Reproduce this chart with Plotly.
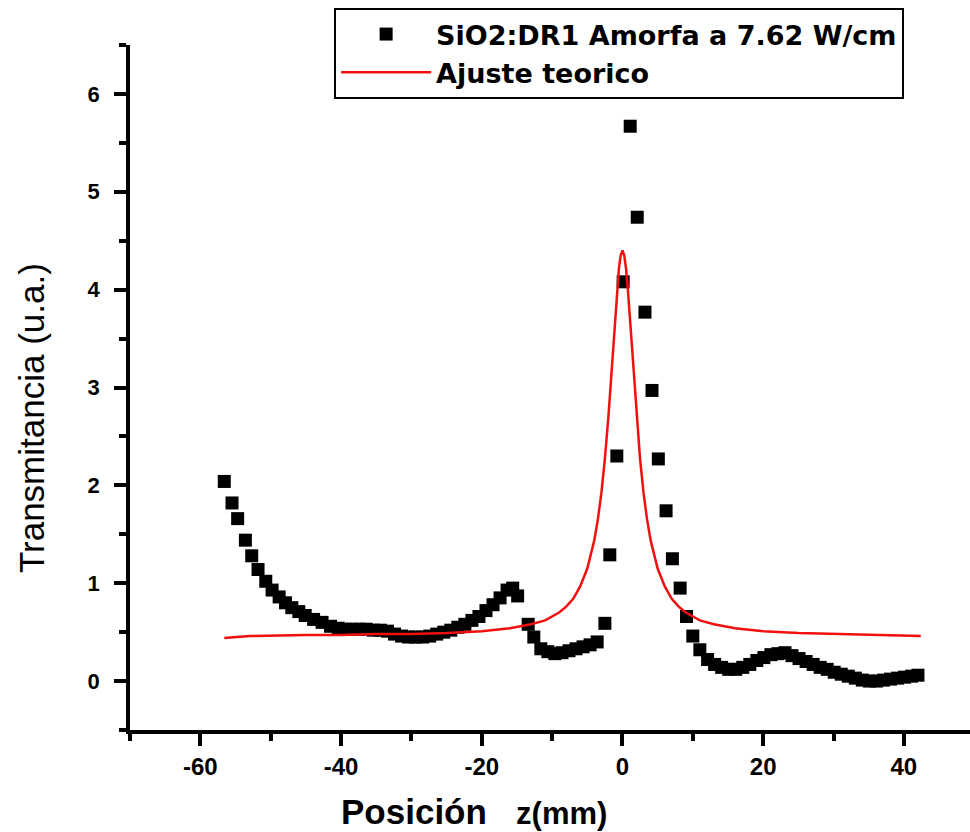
import plotly.graph_objects as go

# Measured Z-scan transmittance (SiO2:DR1, amorphous, 7.62 W/cm)
z_exp = [-56.6, -55.5, -54.7, -53.6, -52.7, -51.8, -50.7, -49.8, -48.8, -47.9,
         -47.0, -46.0, -45.1, -43.9, -42.7, -41.5, -40.4, -39.4, -38.4, -37.4,
         -36.4, -35.4, -34.4, -33.4, -32.4, -31.4, -30.4, -29.4, -28.4, -27.4,
         -26.4, -25.4, -24.4, -23.4, -22.4, -21.4, -20.4, -19.4, -18.4, -17.4,
         -16.4, -15.6, -14.9, -13.4, -12.6, -11.6, -10.6, -9.6, -8.6, -7.6,
         -6.6, -5.6, -4.6, -3.6, -2.5, -1.8, -0.8, 0.1, 1.1, 2.1,
         3.2, 4.2, 5.1, 6.2, 7.1, 8.2, 9.1, 10.0, 11.0, 12.1,
         13.1, 14.1, 15.1, 16.1, 17.1, 18.1, 19.1, 20.1, 21.1, 22.1,
         23.1, 24.1, 25.1, 26.1, 27.1, 28.1, 29.1, 30.1, 31.1, 32.1,
         33.1, 34.1, 35.1, 36.1, 37.1, 38.1, 39.1, 40.1, 41.1, 42.0]
t_exp = [2.04, 1.82, 1.66, 1.44, 1.28, 1.14, 1.02, 0.93, 0.86, 0.80,
         0.75, 0.71, 0.67, 0.63, 0.60, 0.56, 0.54, 0.53, 0.53, 0.53,
         0.53, 0.52, 0.52, 0.51, 0.48, 0.46, 0.45, 0.45, 0.45, 0.46,
         0.48, 0.50, 0.52, 0.55, 0.58, 0.62, 0.66, 0.72, 0.78, 0.85,
         0.93, 0.95, 0.87, 0.58, 0.45, 0.33, 0.30, 0.28, 0.29, 0.31,
         0.33, 0.35, 0.37, 0.40, 0.59, 1.29, 2.30, 4.08, 5.67, 4.74,
         3.77, 2.97, 2.27, 1.74, 1.25, 0.95, 0.66, 0.46, 0.32, 0.22,
         0.17, 0.14, 0.12, 0.12, 0.14, 0.17, 0.21, 0.24, 0.27, 0.28,
         0.29, 0.26, 0.23, 0.20, 0.17, 0.14, 0.12, 0.09, 0.07, 0.05,
         0.03, 0.01, 0.00, 0.00, 0.01, 0.02, 0.03, 0.04, 0.05, 0.06]

# Theoretical fit
z_fit = [-56.6, -53.0, -45.0, -40.0, -35.0, -30.0, -25.0, -20.0, -16.0, -13.0,
         -11.0, -9.0, -8.0, -7.0, -6.0, -5.0, -4.0, -3.5, -3.0, -2.5,
         -2.0, -1.5, -1.0, -0.75, -0.5, -0.25, 0.0, 0.25, 0.5, 0.75,
         1.0, 1.5, 2.0, 2.5, 3.0, 3.5, 4.0, 5.0, 6.0, 7.0,
         8.0, 9.0, 11.0, 13.0, 16.0, 20.0, 25.0, 30.0, 35.0, 42.4]
t_fit = [0.44, 0.46, 0.47, 0.47, 0.48, 0.48, 0.49, 0.51, 0.54, 0.58,
         0.62, 0.70, 0.76, 0.84, 0.97, 1.15, 1.44, 1.65, 1.92, 2.27,
         2.70, 3.23, 3.77, 4.02, 4.22, 4.35, 4.40, 4.35, 4.22, 4.02,
         3.77, 3.23, 2.70, 2.27, 1.92, 1.65, 1.44, 1.15, 0.97, 0.84,
         0.76, 0.70, 0.62, 0.58, 0.54, 0.51, 0.49, 0.48, 0.47, 0.46]

x_ticks = [-60, -40, -20, 0, 20, 40]
y_ticks = [0, 1, 2, 3, 4, 5, 6]

fig = go.Figure()
fig.add_trace(go.Scatter(
    x=z_exp, y=t_exp, mode="markers",
    name="<b>SiO2:DR1 Amorfa a 7.62 W/cm</b>",
    marker=dict(symbol="square", size=13, color="black", line=dict(width=0)),
))
fig.add_trace(go.Scatter(
    x=z_fit, y=t_fit, mode="lines",
    name="<b>Ajuste teorico</b>",
    line=dict(color="#f01010", width=2.5),
))

axis_common = dict(
    showline=True, linecolor="black", linewidth=3.5,
    ticks="outside", ticklen=12, tickwidth=3.5, tickcolor="black",
    showgrid=False, zeroline=False, mirror=False,
)

fig.update_xaxes(range=[-70, 49.4], tickmode="array", tickvals=x_ticks,
                 ticktext=["<b>%d</b>" % v for v in x_ticks],
                 tickfont=dict(family="Liberation Sans Narrow, Liberation Sans", size=24, color="black"),
                 minor=dict(ticks="outside", ticklen=7, tickwidth=3.5,
                            tickcolor="black", dtick=10, tick0=-70),
                 ticklabelstandoff=0, **axis_common)
fig.update_yaxes(range=[-0.5, 6.5], tickmode="array", tickvals=y_ticks,
                 ticktext=["<b>%d</b>" % v for v in y_ticks],
                 tickfont=dict(family="Liberation Sans", size=22, color="black"),
                 minor=dict(ticks="outside", ticklen=7, tickwidth=3.5,
                            tickcolor="black", dtick=0.5, tick0=-0.5),
                 ticklabelstandoff=10, **axis_common)

fig.add_annotation(
    text="<b>Posición</b>   <b><span style='font-size:31px'>z(mm)</span></b>",
    xref="paper", yref="paper", x=0.41, y=-0.119,
    xanchor="center", yanchor="middle", showarrow=False,
    font=dict(family="Liberation Sans, Arial", size=35, color="black"))
fig.add_annotation(
    text="Transmitancia (u.a.)", xref="paper", yref="paper",
    x=-0.117, y=0.455, xanchor="center", yanchor="middle",
    textangle=-90, showarrow=False,
    font=dict(family="Liberation Sans, Arial", size=35, color="black"))

fig.update_layout(
    width=970, height=832,
    margin=dict(l=130, r=0, t=45, b=102),
    paper_bgcolor="white", plot_bgcolor="white",
    legend=dict(
        x=0.243, y=1.054, xanchor="left", yanchor="top",
        bgcolor="white", bordercolor="black", borderwidth=2,
        font=dict(family="DejaVu Sans, Liberation Sans", size=27, color="black"),
        itemwidth=90, tracegroupgap=0,
    ),
    showlegend=True,
)

fig.write_html("out.html")
